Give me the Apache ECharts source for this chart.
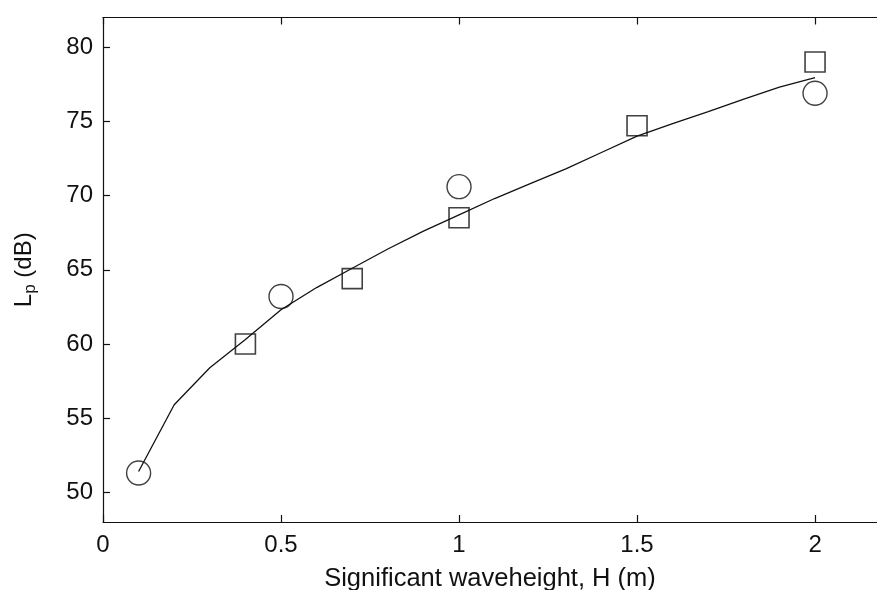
<!DOCTYPE html>
<html>
<head>
<meta charset="utf-8">
<script src="https://cdn.jsdelivr.net/npm/echarts@6/dist/echarts.min.js"></script>
<style>
  html, body { margin: 0; padding: 0; background: #fff; }
  #chart { width: 877px; height: 590px; }
</style>
</head>
<body>
<div id="chart"></div>
<script>
// measured points
let circleX = [0.1, 0.5, 1.0, 2.0];
let circleY = [51.3, 63.2, 70.6, 76.9];
let squareX = [0.4, 0.7, 1.0, 1.5, 2.0];
let squareY = [60.0, 64.4, 68.5, 74.7, 79.0];

// fitted curve
let fitX = [0.1, 0.2, 0.3, 0.4, 0.5, 0.6, 0.7, 0.8, 0.9, 1.0, 1.1, 1.2, 1.3, 1.4, 1.5, 1.6, 1.7, 1.8, 1.9, 2.0];
let fitY = [51.4, 55.9, 58.4, 60.3, 62.3, 63.8, 65.1, 66.4, 67.6, 68.7, 69.8, 70.8, 71.8, 72.9, 74.0, 74.85, 75.65, 76.5, 77.3, 77.95];

let xTicks = [0, 0.5, 1, 1.5, 2];
let yTicks = [50, 55, 60, 65, 70, 75, 80];

function pairs(xs, ys) {
    return xs.map((x, i) => [x, ys[i]]);
}

let font = 'Liberation Sans, Arial, sans-serif';
let ink = '#111';

let chart = echarts.init(document.getElementById('chart'));

let axisCommon = {
    type: 'value',
    axisLine: { show: true, lineStyle: { color: ink, width: 1.2 } },
    axisTick: { show: true, inside: true, length: 7, lineStyle: { color: ink, width: 1.2 } },
    splitLine: { show: false }
};

// the plot box runs past the right edge of the window, so only part of it shows
chart.setOption({
    animation: false,
    backgroundColor: '#fff',
    grid: { left: 103, top: 17.5, bottom: 68, right: 0, outerBoundsMode: 'none' },
    xAxis: [
        Object.assign({}, axisCommon, {
            min: 0,
            max: 2.174,
            position: 'bottom',
            name: 'Significant waveheight, H (m)',
            nameLocation: 'middle',
            nameGap: 44,
            nameTextStyle: { fontFamily: font, fontSize: 25.5, color: ink },
            axisTick: Object.assign({}, axisCommon.axisTick, { customValues: xTicks }),
            axisLabel: { customValues: xTicks, fontFamily: font, fontSize: 24, color: ink, margin: 11 }
        }),
        Object.assign({}, axisCommon, {
            min: 0,
            max: 2.174,
            position: 'top',
            axisTick: Object.assign({}, axisCommon.axisTick, { customValues: xTicks }),
            axisLabel: { show: false }
        })
    ],
    yAxis: Object.assign({}, axisCommon, {
        min: 48,
        max: 82,
        name: '{a|L}{b|p}{a| (dB)}',
        nameLocation: 'middle',
        nameRotate: 90,
        nameGap: 64,
        nameTextStyle: {
            color: ink,
            rich: {
                a: { fontFamily: font, fontSize: 24, color: ink },
                b: { fontFamily: font, fontSize: 17, color: ink, padding: [12, 0, 0, 0] }
            }
        },
        axisTick: Object.assign({}, axisCommon.axisTick, { customValues: yTicks }),
        axisLabel: { customValues: yTicks, fontFamily: font, fontSize: 24, color: ink, margin: 10 }
    }),
    series: [
        {
            type: 'line',
            data: pairs(fitX, fitY),
            showSymbol: false,
            smooth: false,
            lineStyle: { color: ink, width: 1.3 },
            z: 2
        },
        {
            type: 'scatter',
            data: pairs(circleX, circleY),
            symbol: 'circle',
            symbolSize: 24,
            itemStyle: { color: 'rgba(0,0,0,0)', borderColor: ink, borderWidth: 1.4 },
            z: 3
        },
        {
            type: 'scatter',
            data: pairs(squareX, squareY),
            symbol: 'rect',
            symbolSize: 20,
            itemStyle: { color: 'rgba(0,0,0,0)', borderColor: ink, borderWidth: 1.6 },
            z: 3
        }
    ]
});
</script>
</body>
</html>
